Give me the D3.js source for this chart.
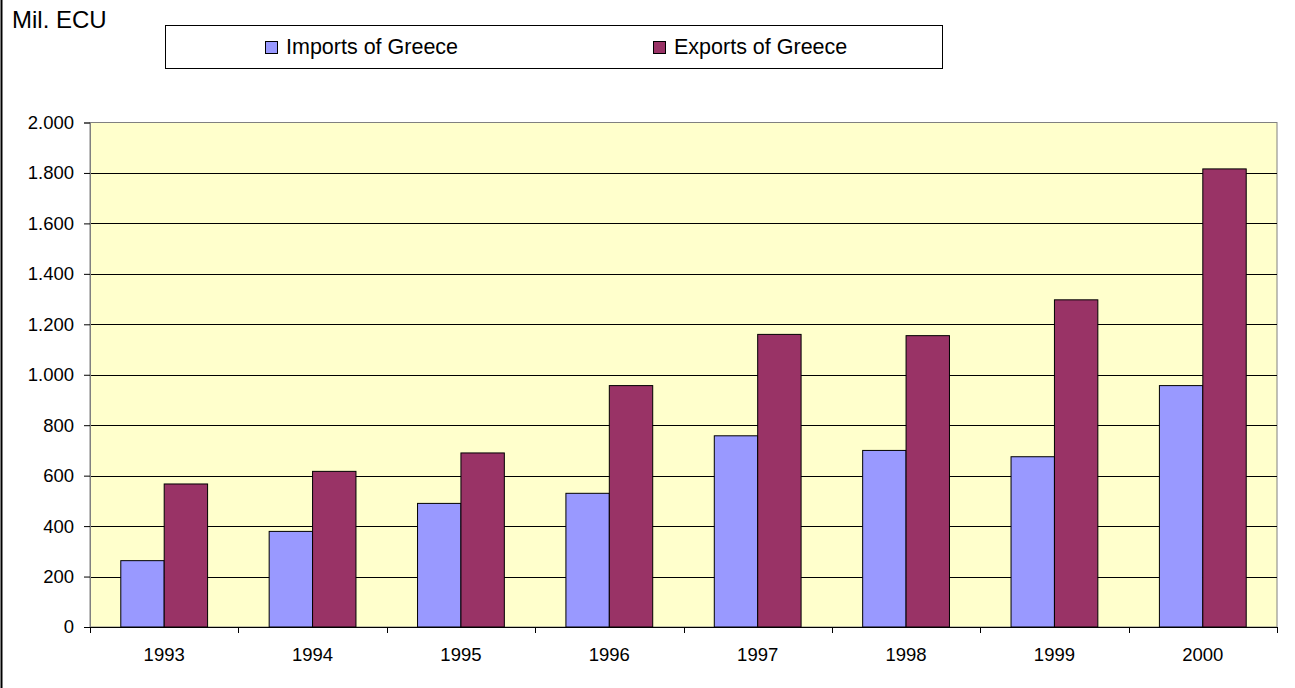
<!DOCTYPE html>
<html>
<head>
<meta charset="utf-8">
<script src="https://cdn.jsdelivr.net/npm/d3@7"></script>
<style>
  html, body { margin: 0; padding: 0; background: #ffffff; }
  svg { display: block; font-family: Arial, "Liberation Sans", sans-serif; }
</style>
</head>
<body>
<svg id="chart" width="1295" height="688"></svg>
<script>
// Trade of Greece, million ECU
const years = ["1993", "1994", "1995", "1996", "1997", "1998", "1999", "2000"];
const seriesNames = ["Imports of Greece", "Exports of Greece"];
const imports = [263, 379, 490, 530, 758, 700, 675, 957];
const exports = [567, 617, 690, 957, 1160, 1155, 1297, 1816];
const yTicks = [0, 200, 400, 600, 800, 1000, 1200, 1400, 1600, 1800, 2000];
const seriesColors = ["#9999ff", "#993366"];

const rows = years.map((y, i) => ({ year: y, values: [imports[i], exports[i]] }));

const svg = d3.select("#chart");
const W = 1295, H = 688;
const plot = { left: 90, right: 1277, top: 122.5, bottom: 627 };

// thousands separated with a dot
const fmt = d3.formatLocale({ decimal: ",", thousands: ".", grouping: [3], currency: ["", ""] }).format(",d");

const x0 = d3.scaleBand().domain(years).range([plot.left, plot.right]).padding(0);
const groupW = x0.bandwidth() * 0.585;
const x1 = d3.scaleBand().domain(seriesNames).range([0, groupW]).padding(0);
const y = d3.scaleLinear().domain([0, 2000]).range([plot.bottom, plot.top]);

// left frame line
svg.append("line").attr("x1", 1.5).attr("x2", 1.5).attr("y1", 0).attr("y2", H)
  .attr("stroke", "#000").attr("stroke-width", 2);

// plot background
svg.append("rect")
  .attr("x", plot.left).attr("y", plot.top)
  .attr("width", plot.right - plot.left).attr("height", plot.bottom - plot.top)
  .attr("fill", "#ffffcc").attr("stroke", "#808080").attr("stroke-width", 1);

// horizontal gridlines
svg.append("g").selectAll("line").data(yTicks.filter(t => t > 0 && t < 2000)).join("line")
  .attr("x1", plot.left).attr("x2", plot.right)
  .attr("y1", d => Math.round(y(d)) + 0.5).attr("y2", d => Math.round(y(d)) + 0.5)
  .attr("stroke", "#000").attr("stroke-width", 1);

// bars
const groups = svg.append("g").selectAll("g").data(rows).join("g")
  .attr("transform", d => `translate(${x0(d.year) + (x0.bandwidth() - groupW) / 2},0)`);
groups.selectAll("rect").data(d => d.values.map((v, i) => ({ v, i }))).join("rect")
  .attr("x", d => x1(seriesNames[d.i]))
  .attr("y", d => y(d.v))
  .attr("width", x1.bandwidth())
  .attr("height", d => y(0) - y(d.v))
  .attr("fill", d => seriesColors[d.i])
  .attr("stroke", "#000").attr("stroke-width", 1);

// y axis
const yAxis = d3.axisLeft(y).tickValues(yTicks).tickFormat(fmt).tickSize(6).tickPadding(10);
const gy = svg.append("g").attr("transform", `translate(${plot.left},0)`).call(yAxis);
gy.select(".domain").attr("stroke", "#808080");
gy.selectAll(".tick line").attr("stroke", "#000");
gy.selectAll("text").attr("font-size", 18.5).attr("fill", "#000")
  .attr("font-family", "Arial, 'Liberation Sans', sans-serif");

// x axis with ticks between categories
const gx = svg.append("g").attr("transform", `translate(0,${plot.bottom})`);
gx.append("line").attr("x1", plot.left).attr("x2", plot.right).attr("y1", 0.5).attr("y2", 0.5)
  .attr("stroke", "#000");
const bounds = years.map(d => x0(d)).concat([plot.right]);
gx.selectAll("line.tk").data(bounds).join("line").attr("class", "tk")
  .attr("x1", d => Math.round(d) + 0.5).attr("x2", d => Math.round(d) + 0.5)
  .attr("y1", 0).attr("y2", 6).attr("stroke", "#000");
gx.selectAll("text").data(years).join("text")
  .attr("x", d => x0(d) + x0.bandwidth() / 2).attr("y", 34)
  .attr("text-anchor", "middle").attr("font-size", 18.5).attr("fill", "#000")
  .text(d => d);

// unit label
svg.append("text").attr("x", 12).attr("y", 28).attr("font-size", 24).attr("fill", "#000")
  .text("Mil. ECU");

// legend
const lg = svg.append("g");
lg.append("rect").attr("x", 165.5).attr("y", 25.5).attr("width", 777).attr("height", 43)
  .attr("fill", "#fff").attr("stroke", "#000").attr("stroke-width", 1);
const legendX = [265, 653];
seriesNames.forEach((name, i) => {
  lg.append("rect").attr("x", legendX[i] + 0.5).attr("y", 41.5).attr("width", 12).attr("height", 12)
    .attr("fill", seriesColors[i]).attr("stroke", "#000").attr("stroke-width", 1);
  lg.append("text").attr("x", legendX[i] + 21).attr("y", 53.5).attr("font-size", 21.5).attr("fill", "#000")
    .text(name);
});
</script>
</body>
</html>
